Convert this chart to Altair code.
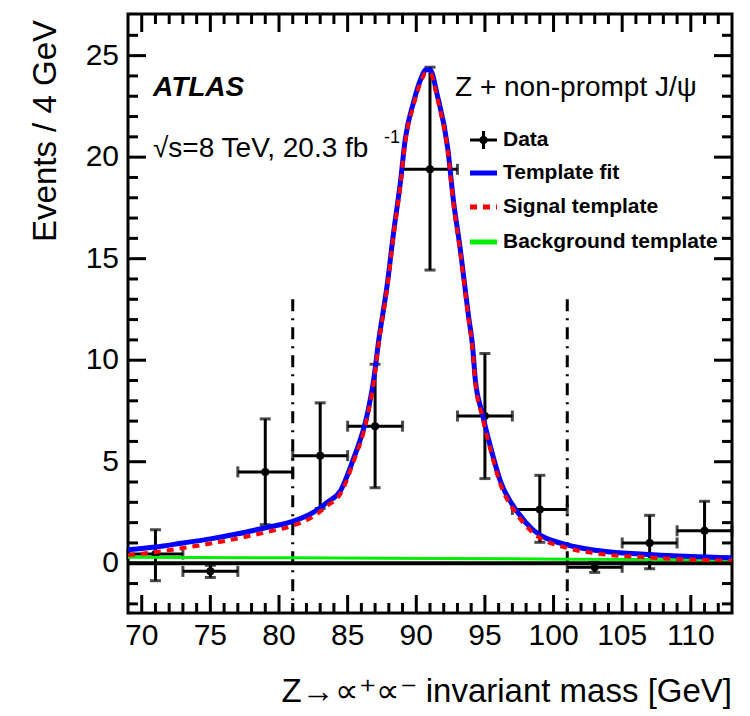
import altair as alt
import pandas as pd

# ---------------- data ----------------
data_x = [71, 75, 79, 83, 87, 91, 95, 99, 103, 107, 111]
data_y = [0.45, -0.4, 4.5, 5.3, 6.75, 19.4, 7.25, 2.65, -0.2, 1.0, 1.6]
data_lo = [-0.86, -0.7, 1.9, 2.7, 3.72, 14.44, 4.17, 1.03, -0.45, -0.27, 0.2]
data_hi = [1.65, -0.1, 7.11, 7.9, 9.8, 24.43, 10.33, 4.33, 0.05, 2.36, 3.05]
bin_half = [2] * len(data_x)

curve_x = [69.0, 71.0, 73.0, 75.0, 77.0, 79.0, 81.0, 82.5, 83.5, 84.5, 85.4,
           86.45, 86.9, 87.25, 87.9, 88.35, 88.85, 89.2, 89.8, 90.3, 90.7,
           91.0, 91.55, 92.3, 92.7, 93.2, 93.8, 94.1, 94.3, 94.8, 95.4, 96.1,
           97.4, 98.5, 101.0, 103.2, 107.3, 113.0]
fit_y = [0.67, 0.8, 1.0, 1.2, 1.45, 1.75, 2.06, 2.5, 3.0, 3.6, 5.1,
         7.4, 9.05, 10.9, 13.8, 16.3, 18.8, 20.9, 22.7, 23.8, 24.3,
         24.3, 23.0, 20.4, 17.9, 15.5, 12.2, 10.7, 9.05, 7.4, 5.75, 4.1,
         2.5, 1.65, 0.9, 0.63, 0.42, 0.27]
signal_y = [0.4, 0.55, 0.75, 0.97, 1.22, 1.52, 1.85, 2.3, 2.82, 3.45, 4.95,
            7.25, 8.9, 10.75, 13.65, 16.15, 18.65, 20.75, 22.55, 23.65, 24.15,
            24.15, 22.85, 20.25, 17.75, 15.35, 12.05, 10.55, 8.9, 7.25, 5.6, 3.95,
            2.35, 1.5, 0.75, 0.48, 0.27, 0.12]
bkg_x = [69, 81, 91, 101, 113]
bkg_y = [0.3, 0.27, 0.24, 0.2, 0.17]

cut_x = [81, 101]
cut_top = [13.0, 13.0]
zero_level = [0]

x_major = [70, 75, 80, 85, 90, 95, 100, 105, 110]
x_minor = [v for v in range(70, 113) if v % 5 != 0]
y_major = [0, 5, 10, 15, 20, 25]
y_minor = [v for v in range(-2, 27) if v % 5 != 0]

x_title = "Z→∝⁺∝⁻ invariant mass [GeV]"
y_title = "Events / 4 GeV"

# ---------------- layout ----------------
W, H = 604, 599
FONT = "Liberation Sans"
X_DOM = [69.0, 113.0]
Y_DOM = [-2.45, 27.05]
xs = alt.Scale(domain=X_DOM, nice=False, zero=False)
ys = alt.Scale(domain=Y_DOM, nice=False, zero=False)
PX_X = W / (X_DOM[1] - X_DOM[0])   # pixels per GeV
PX_Y = H / (Y_DOM[1] - Y_DOM[0])   # pixels per event

pts = pd.DataFrame({"x": data_x, "y": data_y, "lo": data_lo, "hi": data_hi,
                    "half": bin_half})
pts["xlo"] = pts["x"] - pts["half"]
pts["xhi"] = pts["x"] + pts["half"]
fit = pd.DataFrame({"x": curve_x, "y": fit_y})
sig = pd.DataFrame({"x": curve_x, "y": signal_y})
bkg = pd.DataFrame({"x": bkg_x, "y": bkg_y})
cuts = pd.DataFrame({"x": cut_x, "top": cut_top, "bottom": [Y_DOM[0]] * len(cut_x)})
zdf = pd.DataFrame({"z": zero_level, "xa": [X_DOM[0]], "xb": [X_DOM[1]]})
one = pd.DataFrame({"k": [0]})

# frame tick geometry (in data units, derived from the scale sizes)
xt_rows = []
for vals, L in ((x_major, 18), (x_minor, 10)):
    d = L / PX_Y
    for v in vals:
        xt_rows.append({"tx": float(v), "ya": Y_DOM[0], "yb": Y_DOM[0] + d})
        xt_rows.append({"tx": float(v), "ya": Y_DOM[1] - d, "yb": Y_DOM[1]})
xtk = pd.DataFrame(xt_rows)
yt_rows = []
for vals, L in ((y_major, 18), (y_minor, 10)):
    d = L / PX_X
    for v in vals:
        yt_rows.append({"ty": float(v), "xa": X_DOM[0], "xb": X_DOM[0] + d})
        yt_rows.append({"ty": float(v), "xa": X_DOM[1] - d, "xb": X_DOM[1]})
ytk = pd.DataFrame(yt_rows)


def X(field):
    return alt.X(field, scale=xs, axis=None)


def Y(field):
    return alt.Y(field, scale=ys, axis=None)


# zero line
zero = alt.Chart(zdf).mark_rule(color="black", strokeWidth=4).encode(
    y=Y("z:Q"), x=X("xa:Q"), x2="xb:Q")

# error bars
vbar = alt.Chart(pts).mark_rule(color="black", strokeWidth=3).encode(
    x=X("x:Q"), y=Y("lo:Q"), y2="hi:Q")
hbar = alt.Chart(pts).mark_rule(color="black", strokeWidth=3).encode(
    x=X("xlo:Q"), x2="xhi:Q", y=Y("y:Q"))
cap_v_hi = alt.Chart(pts).mark_tick(color="black", orient="horizontal", size=11, thickness=3).encode(
    x=X("x:Q"), y=Y("hi:Q"))
cap_v_lo = alt.Chart(pts).mark_tick(color="black", orient="horizontal", size=11, thickness=3).encode(
    x=X("x:Q"), y=Y("lo:Q"))
cap_h_lo = alt.Chart(pts).mark_tick(color="black", orient="vertical", size=11, thickness=3).encode(
    x=X("xlo:Q"), y=Y("y:Q"))
cap_h_hi = alt.Chart(pts).mark_tick(color="black", orient="vertical", size=11, thickness=3).encode(
    x=X("xhi:Q"), y=Y("y:Q"))
dots = alt.Chart(pts).mark_circle(color="black", opacity=1, size=64).encode(
    x=X("x:Q"), y=Y("y:Q"))

# curves
bkg_line = alt.Chart(bkg).mark_line(color="#00EE00", strokeWidth=3).encode(
    x=X("x:Q"), y=Y("y:Q"))
fit_line = alt.Chart(fit).mark_line(color="#0000FF", strokeWidth=5, interpolate="monotone").encode(
    x=X("x:Q"), y=Y("y:Q"))
sig_line = alt.Chart(sig).mark_line(color="#FF0000", strokeWidth=4, strokeDash=[7, 6],
                                    interpolate="monotone").encode(
    x=X("x:Q"), y=Y("y:Q"))

# dash-dot selection lines
cut_lines = alt.Chart(cuts).mark_rule(color="black", strokeWidth=3,
                                      strokeDash=[12, 7, 2, 7]).encode(
    x=X("x:Q"), y=Y("top:Q"), y2="bottom:Q")

# frame ticks, same construction as the error bars
xtick_layer = alt.Chart(xtk).mark_rule(color="black", strokeWidth=3).encode(
    x=X("tx:Q"), y=Y("ya:Q"), y2="yb:Q")
ytick_layer = alt.Chart(ytk).mark_rule(color="black", strokeWidth=3).encode(
    x=X("xa:Q"), x2="xb:Q", y=Y("ty:Q"))

# tick labels and axis titles as text
xlab = alt.Chart(pd.DataFrame({"lx": x_major})).mark_text(
    font=FONT, fontSize=30, align="center", baseline="top", color="black").encode(
    x=X("lx:Q"), y=alt.value(H + 8), text=alt.Text("lx:Q", format="d"))
ylab = alt.Chart(pd.DataFrame({"ly": y_major})).mark_text(
    font=FONT, fontSize=30, align="right", baseline="middle", color="black").encode(
    y=Y("ly:Q"), x=alt.value(-9), text=alt.Text("ly:Q", format="d"))
xtit = alt.Chart(one).mark_text(text=x_title, font=FONT, fontSize=33, align="right",
                                baseline="alphabetic", color="black").encode(
    x=alt.value(W), y=alt.value(H + 89))
ytit = alt.Chart(one).mark_text(text=y_title, font=FONT, fontSize=33, align="right",
                                baseline="alphabetic", angle=270, color="black").encode(
    x=alt.value(-72), y=alt.value(6))


# annotations
def label(text, x, y, size, weight="normal", style="normal", align="left"):
    return alt.Chart(one).mark_text(text=text, font=FONT, fontSize=size, fontWeight=weight,
                                    fontStyle=style, align=align, baseline="alphabetic",
                                    color="black").encode(x=alt.value(x), y=alt.value(y))


texts = [
    label("ATLAS", 25, 82, 28, weight="bold", style="italic"),
    label("√s=8 TeV, 20.3 fb", 25, 143, 28),
    label("-1", 256, 129, 18),
    label("Z + non-prompt J/ψ", 327, 82, 28),
]

# legend
LX0, LX1, LT = 342, 369, 375
rows = [126, 159, 193, 228]
leg = [
    alt.Chart(one).mark_rule(color="black", strokeWidth=3).encode(
        x=alt.value(LX0), x2=alt.value(LX1), y=alt.value(rows[0])),
    alt.Chart(one).mark_rule(color="black", strokeWidth=3).encode(
        x=alt.value((LX0 + LX1) / 2), y=alt.value(rows[0] - 9), y2=alt.value(rows[0] + 9)),
    alt.Chart(one).mark_point(color="black", filled=True, opacity=1, size=64, shape="circle").encode(
        x=alt.value((LX0 + LX1) / 2), y=alt.value(rows[0])),
    alt.Chart(one).mark_rule(color="#0000FF", strokeWidth=5).encode(
        x=alt.value(LX0), x2=alt.value(LX1), y=alt.value(rows[1])),
    alt.Chart(one).mark_rule(color="#FF0000", strokeWidth=5, strokeDash=[7, 6]).encode(
        x=alt.value(LX0), x2=alt.value(LX1), y=alt.value(rows[2])),
    alt.Chart(one).mark_rule(color="#00EE00", strokeWidth=5).encode(
        x=alt.value(LX0), x2=alt.value(LX1), y=alt.value(rows[3])),
]
for txt, ry in zip(["Data", "Template fit", "Signal template", "Background template"], rows):
    leg.append(alt.Chart(one).mark_text(text=txt, font=FONT, fontSize=21, fontWeight="bold",
                                        align="left", baseline="middle", color="black").encode(
        x=alt.value(LT), y=alt.value(ry)))

chart = alt.layer(
    zero, cut_lines, vbar, hbar, cap_v_hi, cap_v_lo, cap_h_lo, cap_h_hi, dots,
    bkg_line, fit_line, sig_line, xtick_layer, ytick_layer,
    xlab, ylab, xtit, ytit, *texts, *leg
).properties(
    width=W, height=H,
    padding={"left": 128, "top": 14, "right": 18, "bottom": 103},
    autosize=alt.AutoSizeParams(type="none"),
    background="white",
).configure_view(stroke="black", strokeWidth=3)

chart.save("out.html", embed_options={"renderer": "svg", "actions": False})
